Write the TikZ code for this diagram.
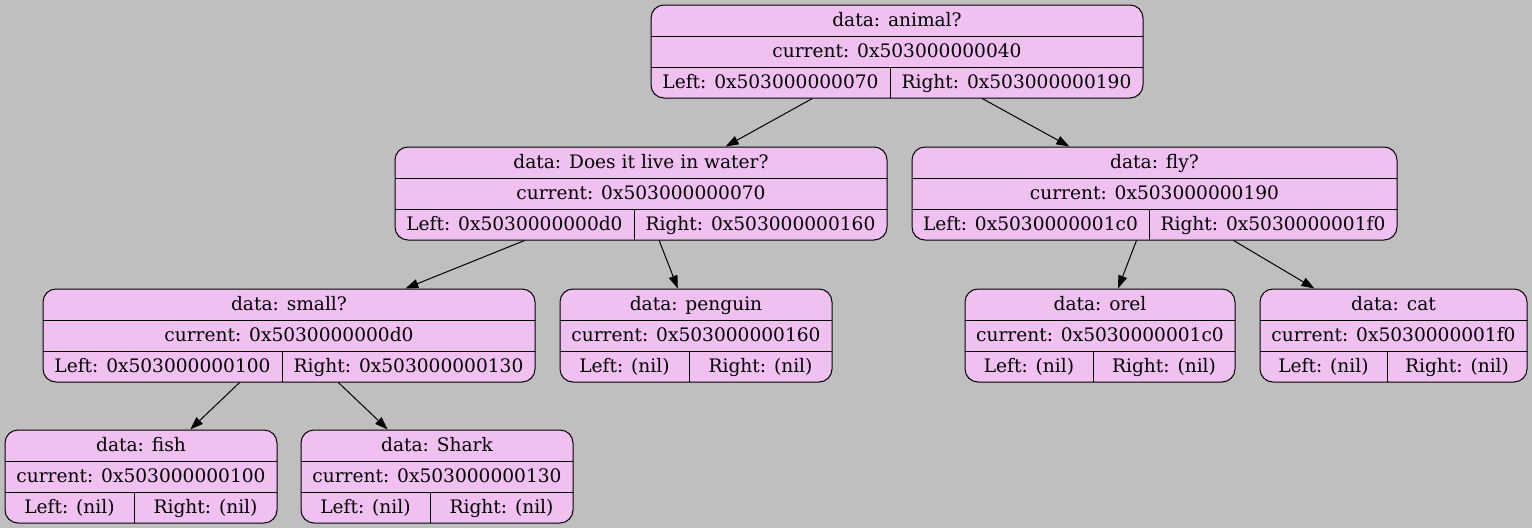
\documentclass[tikz,border=0pt]{standalone}
\usepackage{fontspec}
\setmainfont{DejaVu Serif}
\usetikzlibrary{arrows.meta}
\definecolor{bgc}{HTML}{BFBFBF}
\definecolor{recfill}{HTML}{F0C0F0}
\tikzset{
  recbox/.style={draw=black, fill=recfill, rounded corners=13pt, line width=1pt, inner sep=0pt},
  recline/.style={draw=black, line width=1pt},
  rectext/.style={inner sep=0pt, text height=14pt, text depth=4pt, font=\fontsize{18.6pt}{22pt}\selectfont},
  edge/.style={draw=black, line width=1pt, -{Triangle[length=13pt,width=9pt]}}
}
% name, x1, x2, top, split, data, current, left, right
\newcommand\recnode[9]{%
  \pgfmathsetmacro\rcx{(#2+#3)/2}%
  \pgfmathsetmacro\rw{#3-#2}%
  \pgfmathsetmacro\rlx{(#2+#5)/2}%
  \pgfmathsetmacro\rrx{(#5+#3)/2}%
  \pgfmathsetmacro\ra{#4+31}%
  \pgfmathsetmacro\rb{#4+62}%
  \pgfmathsetmacro\rc{#4+93}%
  \pgfmathsetmacro\rm{#4+46.5}%
  \node[recbox, minimum width=\rw pt, minimum height=93pt] (#1) at (\rcx,\rm) {};
  \draw[recline] (#2,\ra) -- (#3,\ra);
  \draw[recline] (#2,\rb) -- (#3,\rb);
  \draw[recline] (#5,\rb) -- (#5,\rc);
  \node[rectext] (#1-d) at (\rcx,{#4+16}) {#6};
  \node[rectext] (#1-c) at (\rcx,{#4+47}) {#7};
  \node[rectext] (#1-l) at (\rlx,{#4+78}) {#8};
  \node[rectext] (#1-r) at (\rrx,{#4+78}) {#9};
}
\begin{document}
\begin{tikzpicture}[x=1pt,y=-1pt]
\fill[bgc] (0,0) rectangle (1532,528);
\useasboundingbox (0,0) rectangle (1532,528);
\recnode{root}{651}{1143}{5}{890}{data: animal?}{current: 0x503000000040}{Left: 0x503000000070}{Right: 0x503000000190}
\recnode{water}{395}{887}{147}{634}{data: Does it live in water?}{current: 0x503000000070}{Left: 0x5030000000d0}{Right: 0x503000000160}
\recnode{fly}{912}{1397}{147}{1149}{data: fly?}{current: 0x503000000190}{Left: 0x5030000001c0}{Right: 0x5030000001f0}
\recnode{small}{43}{535}{289}{282}{data: small?}{current: 0x5030000000d0}{Left: 0x503000000100}{Right: 0x503000000130}
\recnode{penguin}{560}{832}{289}{689}{data: penguin}{current: 0x503000000160}{Left: (nil)}{Right: (nil)}
\recnode{orel}{965}{1235}{289}{1093}{data: orel}{current: 0x5030000001c0}{Left: (nil)}{Right: (nil)}
\recnode{cat}{1260}{1527}{289}{1387}{data: cat}{current: 0x5030000001f0}{Left: (nil)}{Right: (nil)}
\recnode{fish}{5}{277}{430}{134}{data: fish}{current: 0x503000000100}{Left: (nil)}{Right: (nil)}
\recnode{shark}{301}{573}{430}{430}{data: Shark}{current: 0x503000000130}{Left: (nil)}{Right: (nil)}
\draw[edge] (root) -- (water);
\draw[edge] (root) -- (fly);
\draw[edge] (water) -- (small);
\draw[edge] (water) -- (penguin);
\draw[edge] (small) -- (fish);
\draw[edge] (small) -- (shark);
\draw[edge] (fly) -- (orel);
\draw[edge] (fly) -- (cat);
\end{tikzpicture}
\end{document}
